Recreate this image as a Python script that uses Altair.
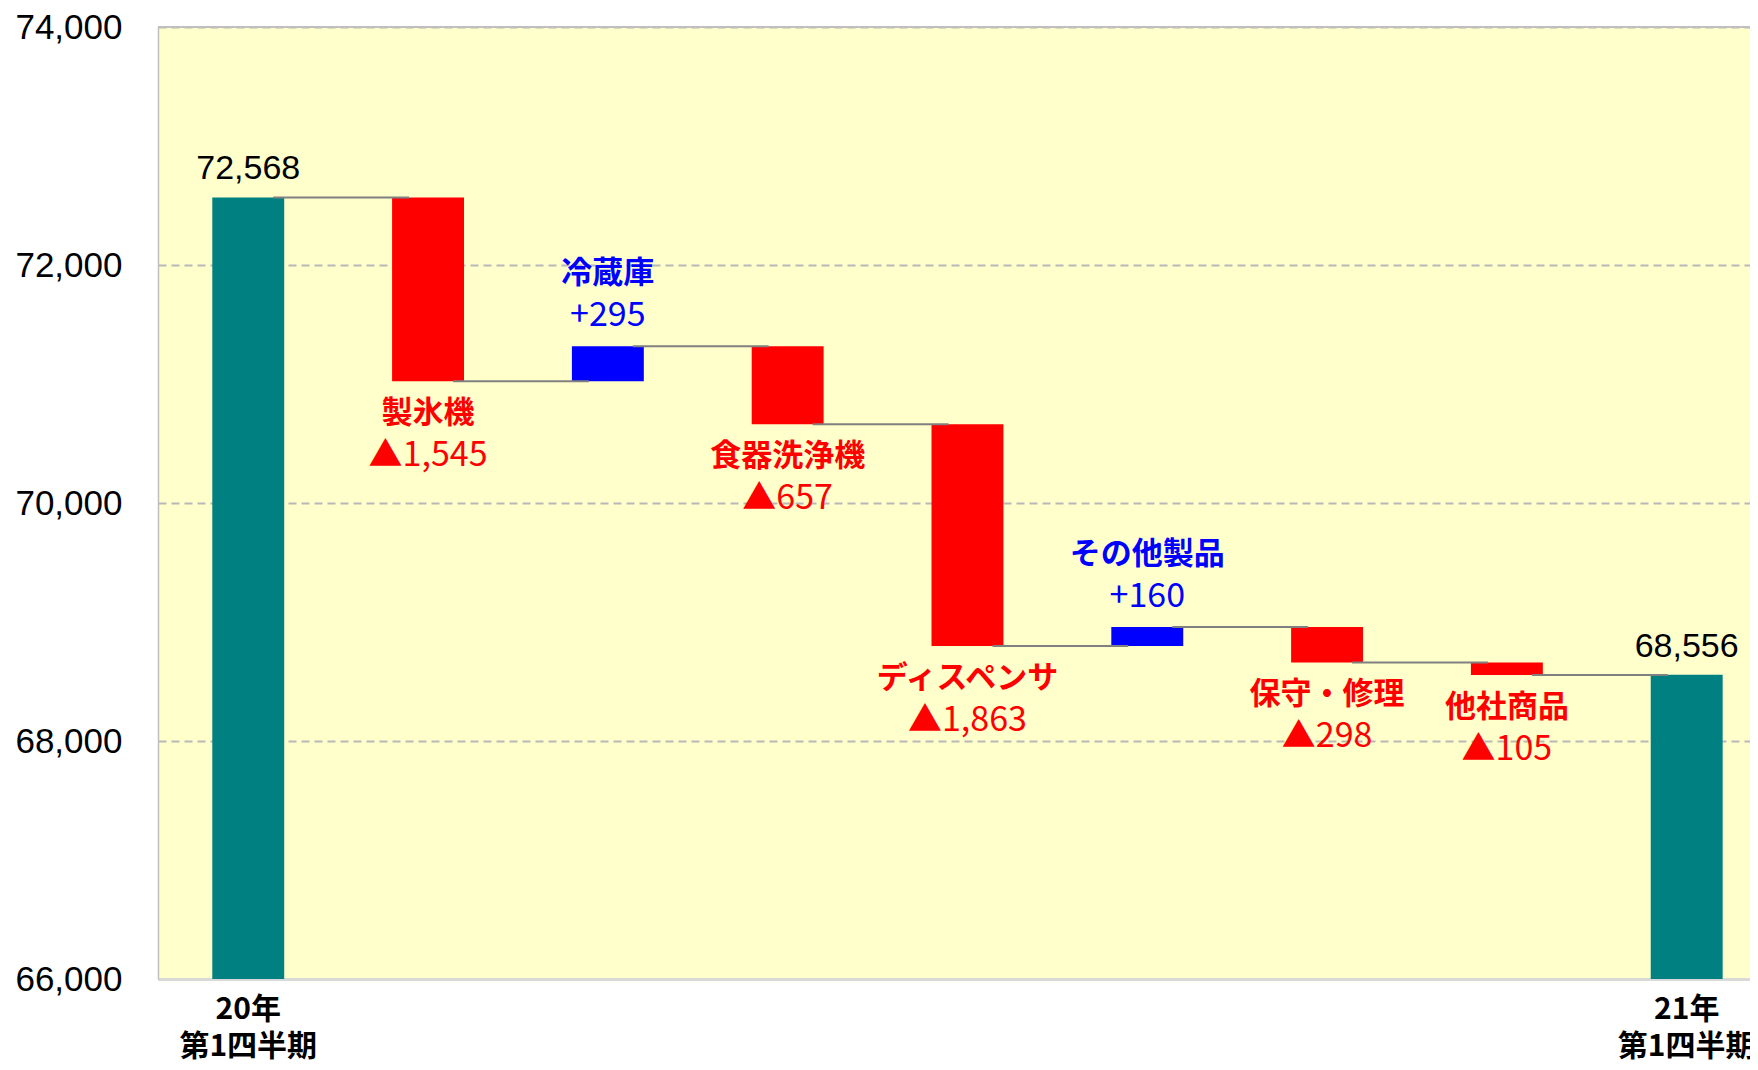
import altair as alt
import pandas as pd

# ---- data ----
categories = ["20年\n第1四半期", "製氷機", "冷蔵庫", "食器洗浄機", "ディスペンサ",
              "その他製品", "保守・修理", "他社商品", "21年\n第1四半期"]
start_total = 72568
end_total = 68556
change_names = ["製氷機", "冷蔵庫", "食器洗浄機", "ディスペンサ", "その他製品", "保守・修理", "他社商品"]
changes = [-1545, 295, -657, -1863, 160, -298, -105]
y_ticks = [66000, 68000, 70000, 72000, 74000]

# ---- build tables ----
bar_rows = [{"cat": categories[0], "y": start_total, "y2": 66000, "kind": "total"}]
level = start_total
levels = [start_total]
for name, ch in zip(change_names, changes):
    new = level + ch
    bar_rows.append({"cat": name, "y": level, "y2": new, "kind": "neg" if ch < 0 else "pos"})
    level = new
    levels.append(level)
bar_rows.append({"cat": categories[-1], "y": end_total, "y2": 66000, "kind": "total"})
bars_df = pd.DataFrame(bar_rows)

conn_df = pd.DataFrame({
    "cat": categories[:-1],
    "next": categories[1:],
    "level": levels,
})

lab_rows = []
lvl = start_total
for name, ch in zip(change_names, changes):
    lvl = lvl + ch
    lab_rows.append({
        "cat": name,
        "anchor": lvl,
        "name": name,
        "value": ("▲" + f"{abs(ch):,}") if ch < 0 else ("+" + f"{ch:,}"),
        "sign": "neg" if ch < 0 else "pos",
    })
lab_df = pd.DataFrame(lab_rows)
neg_df = lab_df[lab_df["sign"] == "neg"]
pos_df = lab_df[lab_df["sign"] == "pos"]

tot_df = pd.DataFrame({
    "cat": [categories[0], categories[-1]],
    "val": [start_total, end_total],
    "txt": [f"{start_total:,}", f"{end_total:,}"],
})

# ---- scales ----
xscale = alt.Scale(domain=categories, paddingInner=0.6, paddingOuter=0.227, align=0.665)
yscale = alt.Scale(domain=[66000, 74000], nice=False, zero=False)

X = alt.X("cat:N", sort=categories, scale=xscale, title=None,
          axis=alt.Axis(
              labelExpr="indexof(datum.label, '\\n') >= 0 ? split(datum.label, '\\n') : ''",
              labelAngle=0, ticks=False, labelFont="Noto Sans CJK JP", labelFontSize=30,
              labelFontWeight="bold", labelColor="#000000", labelLineHeight=37,
              labelPadding=15, domainColor="#d9d9d9", domainWidth=3, grid=False,
              labelOverlap=False))

Y = alt.Y("y:Q", scale=yscale, title=None,
          axis=alt.Axis(values=y_ticks, labelExpr="format(datum.value, ',')", ticks=False,
                        labelFontSize=35, labelFont="Liberation Sans", labelColor="#000000",
                        labelPadding=36, domainColor="#bfbfbf", domainWidth=1.5, grid=True,
                        gridColor="#b8b8b8", gridDash=[8, 5], gridWidth=2))

bars = alt.Chart(bars_df).mark_bar().encode(
    x=X,
    y=Y,
    y2="y2:Q",
    color=alt.Color("kind:N", scale=alt.Scale(domain=["total", "neg", "pos"],
                                              range=["#008080", "#FF0000", "#0000FF"]),
                    legend=None),
)

XN = alt.X("cat:N", sort=categories)

connectors = alt.Chart(conn_df).mark_rule(color="#808080", strokeWidth=2,
                                          xOffset=25, x2Offset=-19).encode(
    x=XN,
    x2="next:N",
    y=alt.Y("level:Q"),
)

top_rule = alt.Chart(pd.DataFrame({"v": [74000]})).mark_rule(color="#bfbfbf", strokeWidth=2).encode(
    y=alt.Y("v:Q")
)

name_font = "Noto Sans CJK JP"
num_font = "Noto Sans CJK JP"

neg_names = alt.Chart(neg_df).mark_text(font=name_font, fontSize=31, fontWeight="bold",
                                        color="#FF0000", dy=33, baseline="middle").encode(
    x=XN, y=alt.Y("anchor:Q"), text="name:N")
neg_vals = alt.Chart(neg_df).mark_text(font=num_font, fontSize=34,
                                       color="#FF0000", dy=75, baseline="middle").encode(
    x=XN, y=alt.Y("anchor:Q"), text="value:N")
pos_names = alt.Chart(pos_df).mark_text(font=name_font, fontSize=31, fontWeight="bold",
                                        color="#0000FF", dy=-72, baseline="middle").encode(
    x=XN, y=alt.Y("anchor:Q"), text="name:N")
pos_vals = alt.Chart(pos_df).mark_text(font=num_font, fontSize=34,
                                       color="#0000FF", dy=-30, baseline="middle").encode(
    x=XN, y=alt.Y("anchor:Q"), text="value:N")
tot_labels = alt.Chart(tot_df).mark_text(font="Liberation Sans", fontSize=34,
                                         color="#000000", dy=-28, baseline="middle").encode(
    x=XN, y=alt.Y("val:Q"), text="txt:N")

chart = alt.layer(
    bars, connectors, top_rule, neg_names, neg_vals, pos_names, pos_vals, tot_labels
).properties(
    width=1592,
    height=952,
    autosize=alt.AutoSizeParams(type="none"),
    padding={"left": 150, "top": 19, "right": 0, "bottom": 83},
).configure(
    font="Liberation Sans", background="#FFFFFF"
).configure_view(
    fill="#FFFFCC", stroke=None
)

chart.save("out.html", embed_options={"renderer": "svg", "actions": False})
